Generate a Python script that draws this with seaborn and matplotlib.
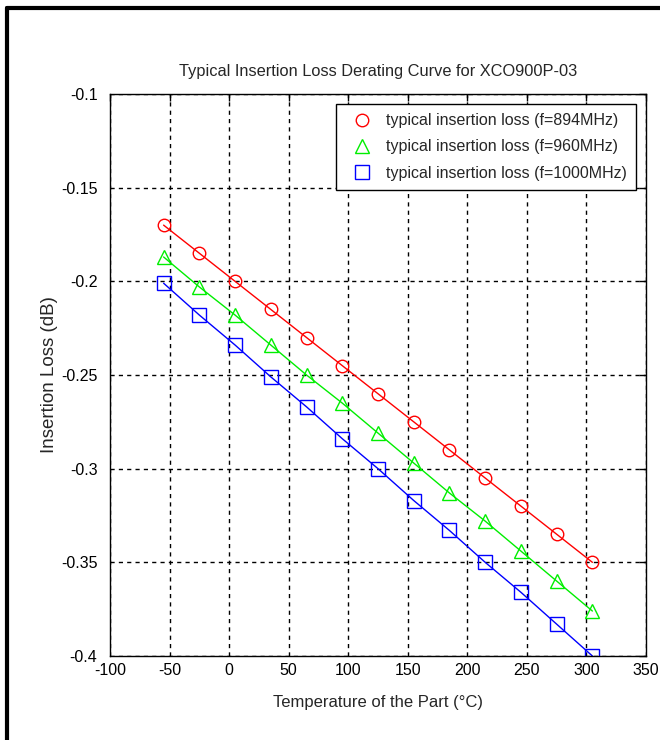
import matplotlib
matplotlib.use("Agg")
import matplotlib.pyplot as plt
from matplotlib.lines import Line2D
import seaborn as sns
import pandas as pd

temps = [-55, -25, 5, 35, 65, 95, 125, 155, 185, 215, 245, 275, 305]
loss_894 = [-0.170, -0.185, -0.200, -0.215, -0.230, -0.245, -0.260,
            -0.275, -0.290, -0.305, -0.320, -0.335, -0.350]
loss_960 = [-0.187, -0.203, -0.218, -0.234, -0.250, -0.265, -0.281,
            -0.297, -0.313, -0.328, -0.344, -0.360, -0.376]
loss_1000 = [-0.201, -0.218, -0.234, -0.251, -0.267, -0.284, -0.300,
             -0.317, -0.333, -0.350, -0.366, -0.383, -0.400]
labels = ["typical insertion loss (f=894MHz)",
          "typical insertion loss (f=960MHz)",
          "typical insertion loss (f=1000MHz)"]
x_ticks = [-100, -50, 0, 50, 100, 150, 200, 250, 300, 350]
y_ticks = [-0.4, -0.35, -0.3, -0.25, -0.2, -0.15, -0.1]

sns.set_style("white")
plt.rcParams["font.family"] = ["Liberation Sans", "DejaVu Sans"]
fam = ["Liberation Sans", "DejaVu Sans"]

frames = []
for lab, vals in zip(labels, [loss_894, loss_960, loss_1000]):
    frames.append(pd.DataFrame({"Temperature": temps, "Loss": vals, "series": lab}))
df = pd.concat(frames, ignore_index=True)

colors = ["#ff0000", "#00ee00", "#0000ff"]
markers = ["o", "^", "s"]
msizes = [9, 10, 10]

fig = plt.figure(figsize=(6.6, 7.4), dpi=100)
ax = fig.add_axes([110 / 660, 1 - 656 / 740, 536 / 660, (656 - 94) / 740])

handles = []
for lab, c, m, ms in zip(labels, colors, markers, msizes):
    sub = df[df["series"] == lab]
    sns.lineplot(data=sub, x="Temperature", y="Loss", ax=ax, color=c,
                 linewidth=1.0, marker=m, markersize=ms, markerfacecolor="none",
                 markeredgecolor=c, markeredgewidth=1.0, legend=False)
    handles.append(Line2D([], [], linestyle="none", marker=m, markersize=ms,
                          markerfacecolor="none", markeredgecolor=c))

ax.set_xlim(-100, 350)
ax.set_ylim(-0.4, -0.1)
ax.set_xticks(x_ticks)
ax.set_yticks(y_ticks)
ax.set_xticklabels([str(t) for t in x_ticks], family=fam, fontsize=11.5)
ax.set_yticklabels([f"{t:g}" for t in y_ticks], family=fam, fontsize=11.5)
ax.tick_params(direction="in", length=5, width=1, colors="black",
               top=True, right=True)
ax.tick_params(axis="x", pad=5)
ax.tick_params(axis="y", pad=9)
ax.grid(True, color="black", linestyle=(0, (3, 3)), linewidth=1.0)
for s in ax.spines.values():
    s.set_color("black")
    s.set_linewidth(1.0)

ax.set_xlabel("Temperature of the Part (\u00b0C)", family=fam, fontsize=12, labelpad=12)
ax.set_ylabel("Insertion Loss (dB)", family=fam, fontsize=13.5, labelpad=2)
ax.set_title("Typical Insertion Loss Derating Curve for XCO900P-03",
             family=fam, fontsize=11.8, pad=13)

leg = ax.legend(handles, labels, loc="upper right", prop={"family": fam, "size": 11.5},
                frameon=True, fancybox=False, framealpha=1, edgecolor="black",
                borderaxespad=0.6, handletextpad=0.5, labelspacing=0.7,
                borderpad=0.6)
leg.get_frame().set_linewidth(1.0)

# figure border (top and left edges)
fig.add_artist(Line2D([7 / 660, 1], [1 - 8 / 740, 1 - 8 / 740], color="black",
                      linewidth=3, transform=fig.transFigure))
fig.add_artist(Line2D([7 / 660, 7 / 660], [0, 1 - 8 / 740], color="black",
                      linewidth=3, transform=fig.transFigure))

fig.savefig("out.png", dpi=100)
